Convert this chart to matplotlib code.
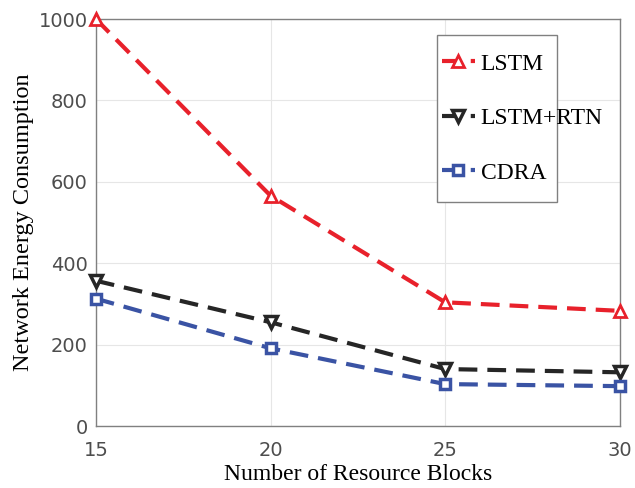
import matplotlib
matplotlib.use("Agg")
import matplotlib.pyplot as plt
from matplotlib.patches import Rectangle

blocks = [15, 20, 25, 30]
lstm = [1000, 566, 304, 283]
lstm_rtn = [357, 255, 140, 132]
cdra = [313, 191, 103, 98]

fig = plt.figure(figsize=(6.35, 4.88), dpi=100)
ax = fig.add_axes([0.151, 0.127, 0.825, 0.834])

serif = "Liberation Serif"
dash = (4.5, 2.4)
ax.plot(blocks, lstm, "--", dashes=dash, color="#e8212b", lw=3, marker="^", ms=9,
        mfc="white", mec="#e8212b", mew=2, label="LSTM", clip_on=False, zorder=3)
ax.plot(blocks, lstm_rtn, "--", dashes=dash, color="#262626", lw=3, marker="v", ms=9,
        mfc="white", mec="#262626", mew=2.5, label="LSTM+RTN", clip_on=False, zorder=3)
ax.plot(blocks, cdra, "--", dashes=dash, color="#3a53a4", lw=3, marker="s", ms=7,
        mfc="white", mec="#3a53a4", mew=2.5, label="CDRA", clip_on=False, zorder=3)

ax.set_xlim(15, 30)
ax.set_ylim(0, 1000)
ax.set_xticks(blocks)
ax.set_yticks([0, 200, 400, 600, 800, 1000])
ax.grid(True, color="#e6e6e6", lw=0.8)
ax.set_axisbelow(True)
for s in ax.spines.values():
    s.set_color("#808080")
    s.set_linewidth(1)
ax.tick_params(labelsize=14, colors="#4d4d4d", length=0)
ax.tick_params(axis="x", pad=11)
ax.tick_params(axis="y", pad=6)

ax.set_xlabel("Number of Resource Blocks", fontfamily=serif, fontsize=17, labelpad=3)
ax.set_ylabel("Network Energy Consumption", fontfamily=serif, fontsize=17.5, labelpad=3)

# legend frame is narrower than its text in the original
ax.add_patch(Rectangle((0.651, 0.550), 0.229, 0.411, transform=ax.transAxes,
                       facecolor="white", edgecolor="#808080", lw=1, zorder=4))
leg = ax.legend(loc="center left", bbox_to_anchor=(0.660, 0.756), prop={"family": serif, "size": 17},
                handlelength=1.4, handletextpad=0.25, labelspacing=1.4, borderpad=0,
                frameon=False, borderaxespad=0)
leg.set_zorder(5)

fig.savefig("out.png", dpi=100)
